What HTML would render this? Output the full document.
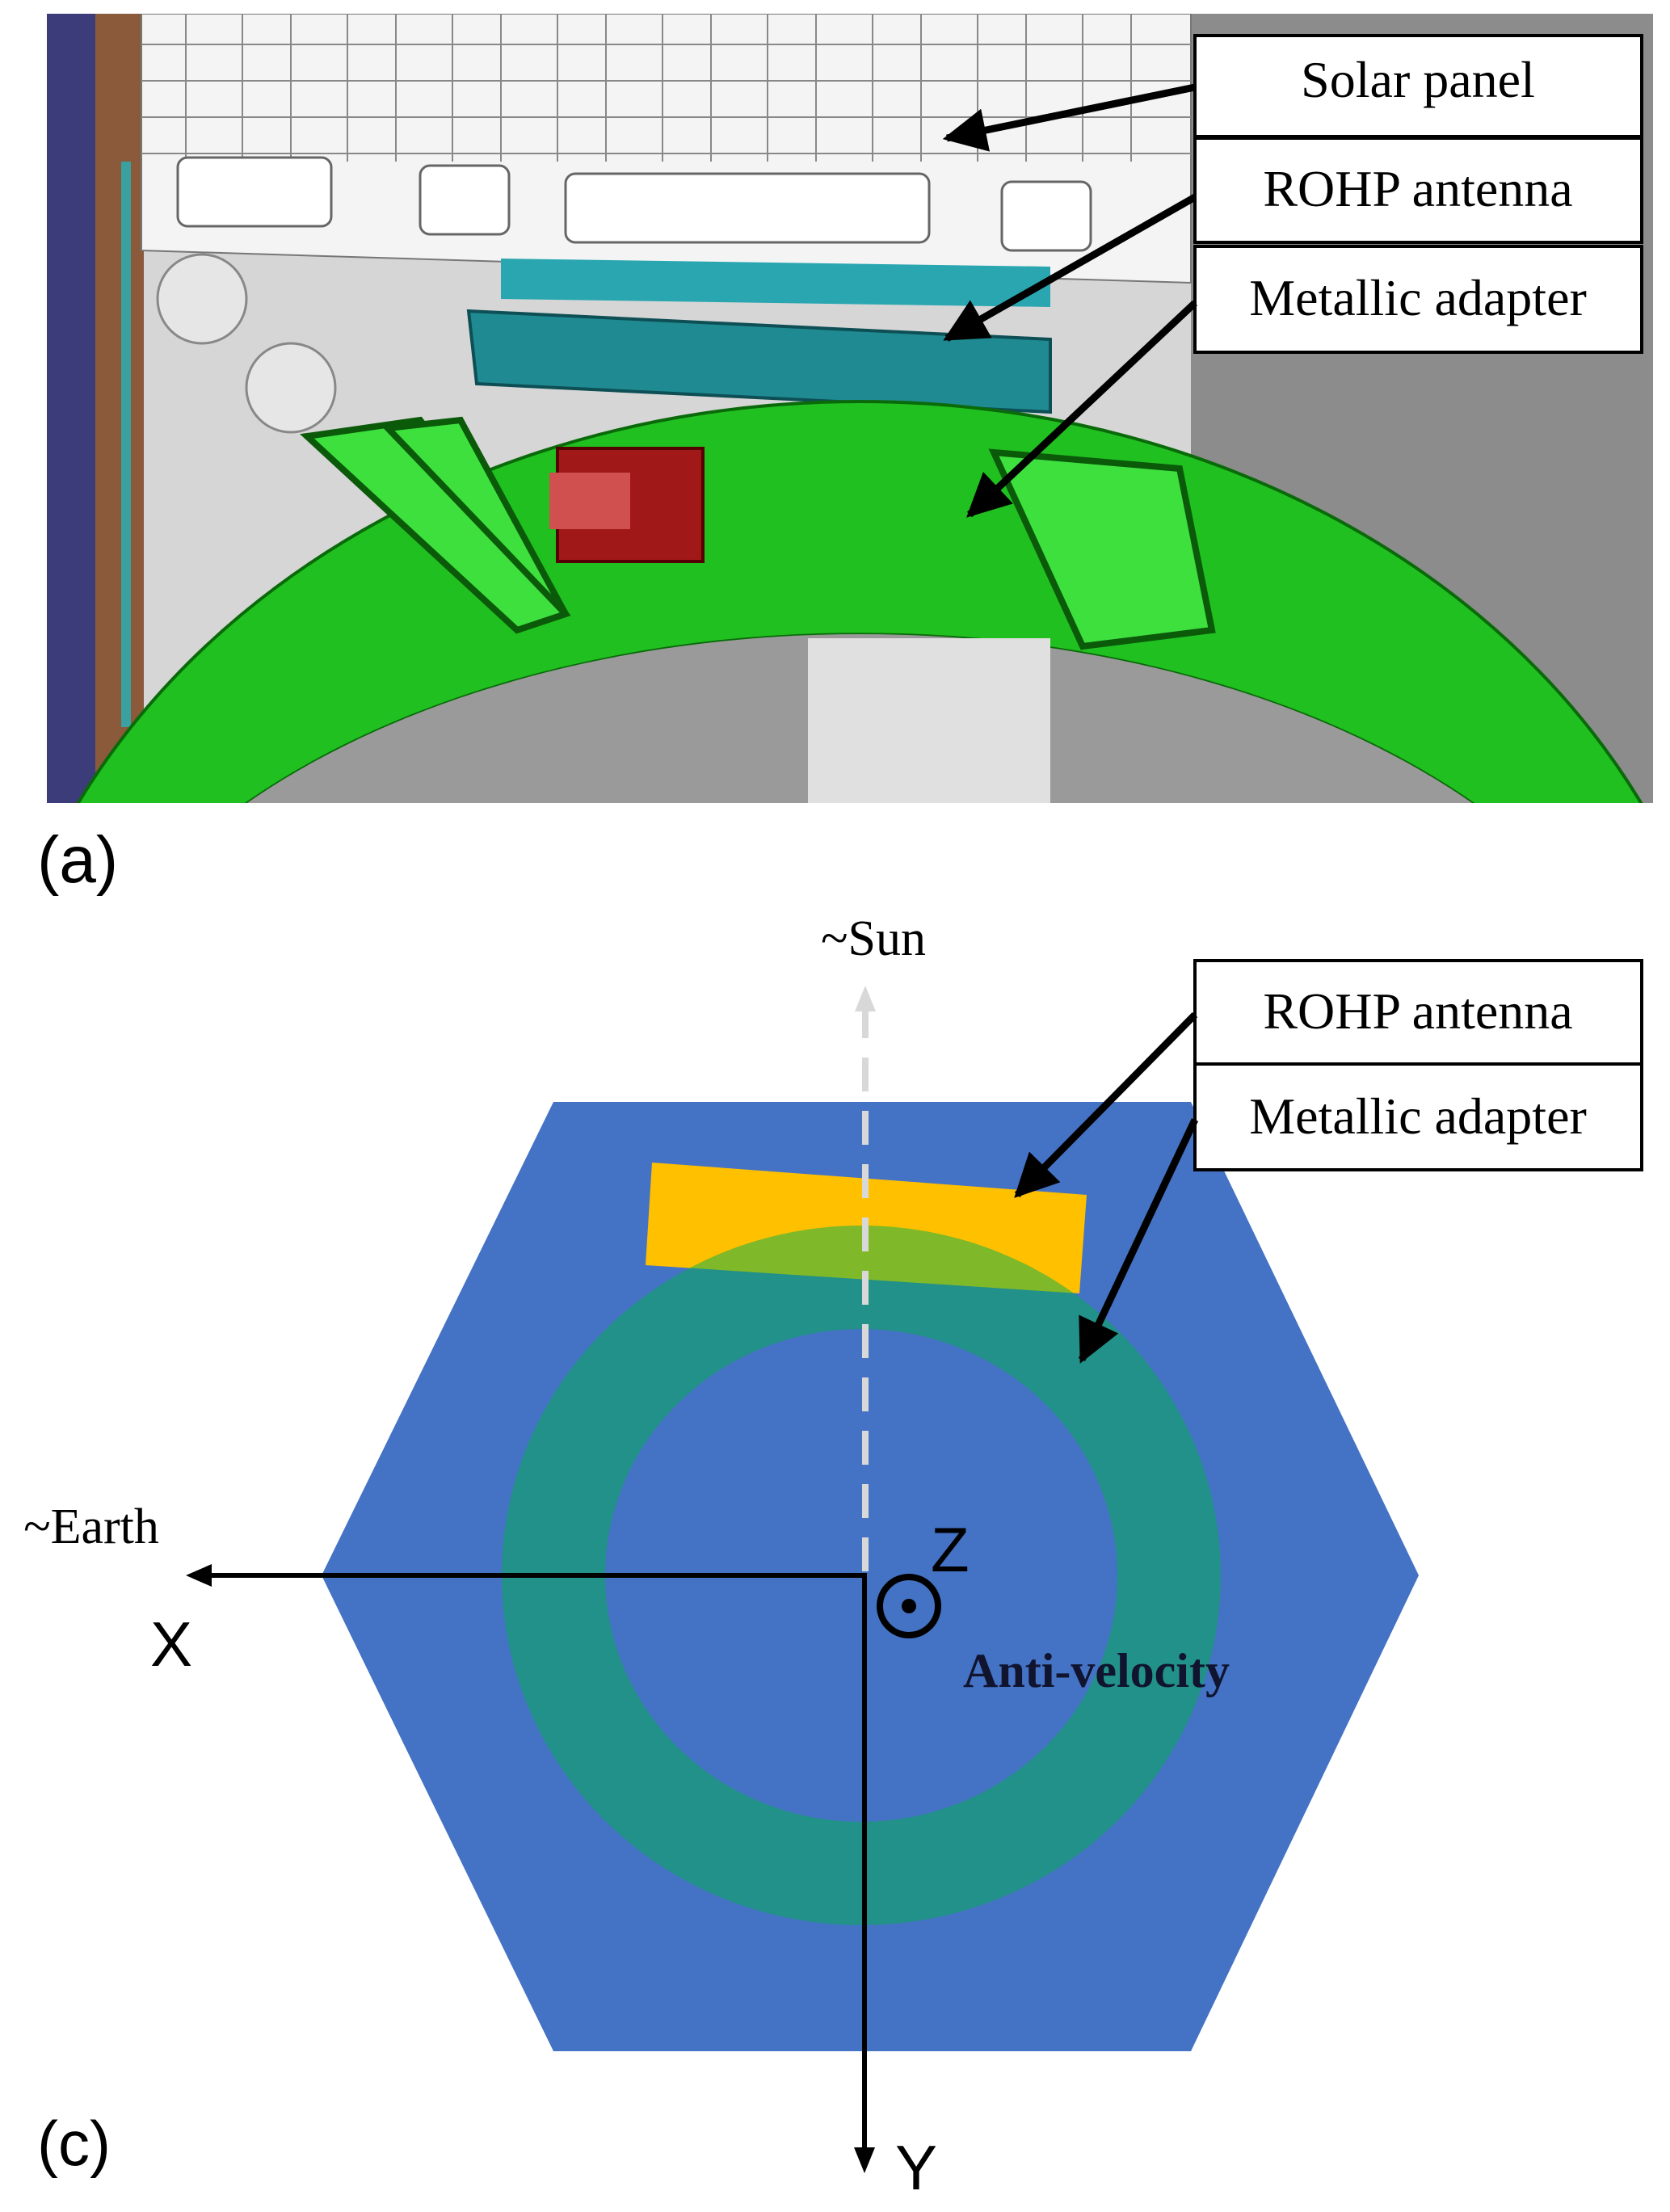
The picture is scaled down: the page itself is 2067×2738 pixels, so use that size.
<!DOCTYPE html>
<html><head><meta charset="utf-8"><style>
html,body{margin:0;padding:0;background:#fff}
body{width:2067px;height:2738px;overflow:hidden}
svg{display:block}
</style></head><body>
<svg width="2067" height="2738" viewBox="0 0 2067 2738" xmlns="http://www.w3.org/2000/svg">
<defs>
<clipPath id="ph"><rect x="58" y="17" width="1988" height="977"/></clipPath>
<marker id="ah" viewBox="0 0 10 10" refX="9" refY="5" markerWidth="7" markerHeight="6" orient="auto"><path d="M0,0 L10,5 L0,10 z" fill="#000"/></marker>
</defs>
<g clip-path="url(#ph)">
<rect x="58" y="17" width="1988" height="977" fill="#d6d6d6"/>
<rect x="1474" y="17" width="572" height="977" fill="#8c8c8c"/>
<rect x="58" y="17" width="60" height="977" fill="#3c3c7a"/>
<rect x="118" y="17" width="60" height="977" fill="#8a5a3a"/>
<rect x="150" y="200" width="12" height="700" fill="#3aa0a0"/>
<path d="M175,17 L1474,17 L1474,350 L175,310 Z" fill="#f4f4f4" stroke="#777" stroke-width="2"/>
<g stroke="#888" stroke-width="2" fill="none">
<path d="M175,55 H1474 M175,100 H1474 M175,145 H1474 M175,190 H1474"/>
<path d="M230,17V200 M300,17V200 M360,17V200 M430,17V200 M490,17V200 M560,17V200 M620,17V200 M690,17V200 M750,17V200 M820,17V200 M880,17V200 M950,17V200 M1010,17V200 M1080,17V200 M1140,17V200 M1210,17V200 M1270,17V200 M1340,17V200 M1400,17V200"/>
</g>
<g fill="#fff" stroke="#666" stroke-width="3">
<rect x="220" y="195" width="190" height="85" rx="12"/>
<rect x="520" y="205" width="110" height="85" rx="12"/>
<rect x="700" y="215" width="450" height="85" rx="12"/>
<rect x="1240" y="225" width="110" height="85" rx="12"/>
</g>
<circle cx="250" cy="370" r="55" fill="#e6e6e6" stroke="#888" stroke-width="3"/>
<circle cx="360" cy="480" r="55" fill="#e6e6e6" stroke="#888" stroke-width="3"/>
<path d="M620,320 L1300,330 L1300,380 L620,370 Z" fill="#2aa6b0"/>
<path d="M580,385 L1300,420 L1300,510 L590,475 Z" fill="#1f8a92" stroke="#0d4f55" stroke-width="4"/>
<path fill-rule="evenodd" d="M-17,1395 A1081,898 0 0 1 2145,1395 A1081,898 0 0 1 -17,1395 Z M58,1395 A1006,610 0 0 1 2070,1395 A1006,610 0 0 1 58,1395 Z" fill="#20c020" stroke="#0a6a0a" stroke-width="4"/>
<ellipse cx="1064" cy="1395" rx="1006" ry="610" fill="#9a9a9a"/>
<rect x="1000" y="790" width="300" height="204" fill="#e0e0e0"/>
<g stroke="#0a5a0a" stroke-width="8" fill="#3ee03e">
<path d="M380,540 L520,520 L700,760 L640,780 Z"/>
<path d="M480,530 L570,520 L700,760 Z"/>
<path d="M1230,560 L1460,580 L1500,780 L1340,800 Z"/>
</g>
<rect x="690" y="555" width="180" height="140" fill="#a01818" stroke="#500" stroke-width="4"/>
<rect x="680" y="585" width="100" height="70" fill="#d05050"/>
</g>
<text x="46" y="1092" font-family="Liberation Sans, sans-serif" font-size="82" fill="#000">(a)</text>
<g font-family="Liberation Serif, serif" font-size="64" text-anchor="middle" fill="#000">
<rect x="1479" y="44" width="553" height="125" fill="#fff" stroke="#000" stroke-width="4"/>
<text x="1755" y="120">Solar panel</text>
<rect x="1479" y="171" width="553" height="129" fill="#fff" stroke="#000" stroke-width="4"/>
<text x="1755" y="255">ROHP antenna</text>
<rect x="1479" y="305" width="553" height="131" fill="#fff" stroke="#000" stroke-width="4"/>
<text x="1755" y="390">Metallic adapter</text>
</g>
<g stroke="#000" stroke-width="9" marker-end="url(#ah)">
<line x1="1479" y1="108" x2="1172" y2="171"/>
<line x1="1479" y1="244" x2="1172" y2="419"/>
<line x1="1479" y1="375" x2="1200" y2="637"/>
</g>
<polygon points="685,1364 1474,1364 1756,1950 1474,2539 685,2539 398,1950" fill="#4472C4"/>
<polygon points="807,1439 1345,1479 1336,1601 799,1566" fill="#FFC000"/>
<path fill-rule="evenodd" d="M621,1950 A445,433 0 0 1 1511,1950 A445,433 0 0 1 621,1950 Z M749,1950 A317,305 0 0 1 1383,1950 A317,305 0 0 1 749,1950 Z" fill="#00B050" fill-opacity="0.5"/>
<line x1="1071" y1="1945" x2="1071" y2="1250" stroke="#d8d8d8" stroke-width="8" stroke-dasharray="42,24"/>
<path d="M1058,1252 L1071,1220 L1084,1252 Z" fill="#d8d8d8"/>
<text x="1081" y="1182" font-family="Liberation Serif, serif" font-size="62" text-anchor="middle">~Sun</text>
<polyline points="1070,2677 1070,1950 255,1950" stroke="#000" stroke-width="6" fill="none"/>
<path d="M230,1950 L262,1936 L262,1964 Z" fill="#000"/>
<path d="M1070,2690 L1057,2658 L1083,2658 Z" fill="#000"/>
<circle cx="1125" cy="1988" r="36" fill="none" stroke="#000" stroke-width="8"/>
<circle cx="1125" cy="1988" r="9" fill="#000"/>
<g font-family="Liberation Sans, sans-serif" font-size="78" fill="#000">
<text x="186" y="2062">X</text>
<text x="1108" y="2710">Y</text>
<text x="1152" y="1945">Z</text>
<text x="46" y="2680">(c)</text>
</g>
<text x="113" y="1910" font-family="Liberation Serif, serif" font-size="62" text-anchor="middle">~Earth</text>
<text x="1357" y="2088" font-family="Liberation Serif, serif" font-size="60" font-weight="bold" text-anchor="middle" fill="#10142e">Anti-velocity</text>
<g font-family="Liberation Serif, serif" font-size="64" text-anchor="middle" fill="#000">
<rect x="1479" y="1189" width="553" height="128" fill="#fff" stroke="#000" stroke-width="4"/>
<text x="1755" y="1273">ROHP antenna</text>
<rect x="1479" y="1317" width="553" height="131" fill="#fff" stroke="#000" stroke-width="4"/>
<text x="1755" y="1403">Metallic adapter</text>
</g>
<g stroke="#000" stroke-width="9" marker-end="url(#ah)">
<line x1="1479" y1="1256" x2="1259" y2="1479"/>
<line x1="1479" y1="1386" x2="1339" y2="1683"/>
</g>
</svg>
</body></html>
